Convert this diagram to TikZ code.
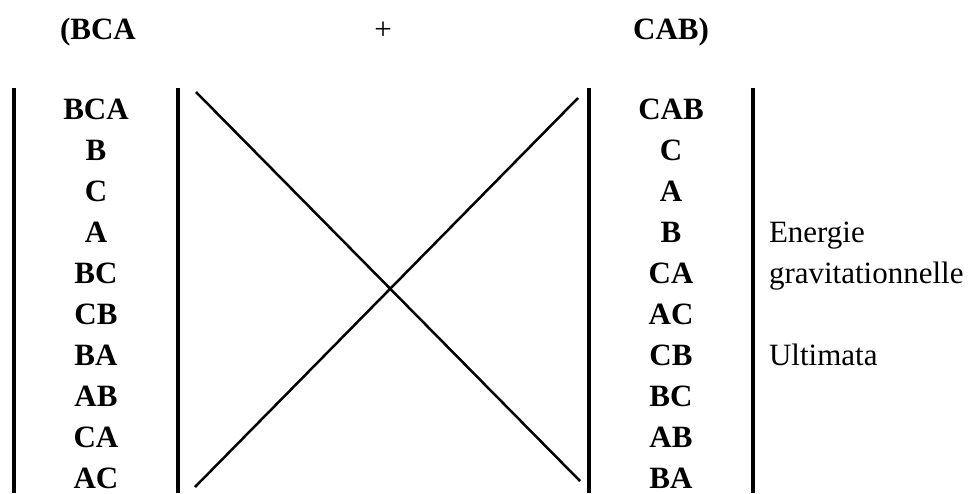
\documentclass[tikz,border=0pt]{standalone}
\usepackage{fontspec}
\setmainfont{Liberation Serif}
\begin{document}
\begin{tikzpicture}[x=1pt,y=-1pt,inner sep=0pt,outer sep=0pt,
perm/.style={font=\fontsize{31}{37}\selectfont\bfseries,anchor=base},
note/.style={font=\fontsize{31}{37}\selectfont,anchor=base west},
bar/.style={line width=4pt},
cross/.style={line width=2.5pt}]
\useasboundingbox (0,0) rectangle (973,493);
% heading
\draw (98,39) node[perm] (lhead) {(BCA};
\draw (383,39) node[perm,font=\fontsize{31}{37}\selectfont] (plus) {+};
\draw (671,39) node[perm] (rhead) {CAB)};
% the two columns of products
\foreach \l/\r [count=\i from 0] in {BCA/CAB,B/C,C/A,A/B,BC/CA,CB/AC,BA/CB,AB/BC,CA/AB,AC/BA}
  {\draw (96,119+41.1*\i) node[perm] (l\i) {\l};
   \draw (671,119+41.1*\i) node[perm] (r\i) {\r};}
% notes beside the right column
\draw (769,242) node[note] (energie) {Energie};
\draw (769,283) node[note] (grav) {gravitationnelle};
\draw (769,365) node[note] (ultim) {Ultimata};
% bars
\coordinate (b1t) at (14,88);  \coordinate (b1b) at (14,493);
\coordinate (b2t) at (178,88); \coordinate (b2b) at (178,493);
\coordinate (b3t) at (589,88); \coordinate (b3b) at (589,493);
\coordinate (b4t) at (753,88); \coordinate (b4b) at (753,493);
\draw[bar] (b1t) -- (b1b);
\draw[bar] (b2t) -- (b2b);
\draw[bar] (b3t) -- (b3b);
\draw[bar] (b4t) -- (b4b);
% crossing lines
\coordinate (xtl) at (196,92);  \coordinate (xbr) at (580,481);
\coordinate (xtr) at (578,98);  \coordinate (xbl) at (195,487);
\draw[cross] (xtl) -- (xbr);
\draw[cross] (xtr) -- (xbl);
\end{tikzpicture}
\end{document}
